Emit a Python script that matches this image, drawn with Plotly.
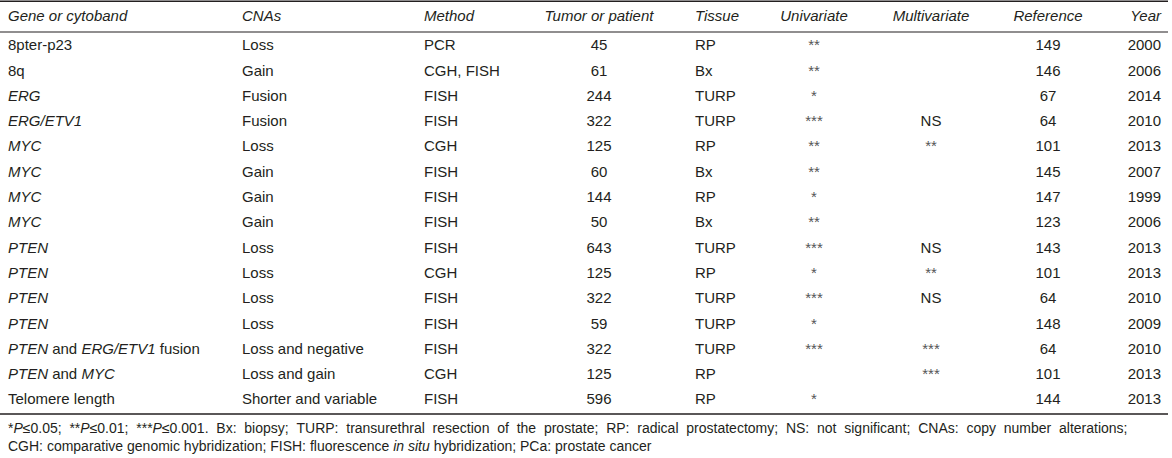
import plotly.graph_objects as go

# ---- data ----
headers = ["Gene or cytoband", "CNAs", "Method", "Tumor or patient", "Tissue",
           "Univariate", "Multivariate", "Reference", "Year"]
genes = ["8pter-p23", "8q", "<i>ERG</i>", "<i>ERG/ETV1</i>", "<i>MYC</i>", "<i>MYC</i>",
         "<i>MYC</i>", "<i>MYC</i>", "<i>PTEN</i>", "<i>PTEN</i>", "<i>PTEN</i>", "<i>PTEN</i>",
         "<i>PTEN</i> and <i>ERG/ETV1</i> fusion", "<i>PTEN</i> and <i>MYC</i>", "Telomere length"]
cnas = ["Loss", "Gain", "Fusion", "Fusion", "Loss", "Gain", "Gain", "Gain", "Loss", "Loss",
        "Loss", "Loss", "Loss and negative", "Loss and gain", "Shorter and variable"]
methods = ["PCR", "CGH, FISH", "FISH", "FISH", "CGH", "FISH", "FISH", "FISH", "FISH", "CGH",
           "FISH", "FISH", "FISH", "CGH", "FISH"]
patients = [45, 61, 244, 322, 125, 60, 144, 50, 643, 125, 322, 59, 322, 125, 596]
tissues = ["RP", "Bx", "TURP", "TURP", "RP", "Bx", "RP", "Bx", "TURP", "RP", "TURP", "TURP",
           "TURP", "RP", "RP"]
univariate = ["**", "**", "*", "***", "**", "**", "*", "**", "***", "*", "***", "*", "***", "", "*"]
multivariate = ["", "", "", "NS", "**", "", "", "", "NS", "**", "NS", "", "***", "***", ""]
references = [149, 146, 67, 64, 101, 145, 147, 123, 143, 101, 64, 148, 64, 101, 144]
years = [2000, 2006, 2014, 2010, 2013, 2007, 1999, 2006, 2013, 2013, 2010, 2009, 2010, 2013, 2013]
footnote_line1 = ("*<i>P</i>≤0.05; **<i>P</i>≤0.01; ***<i>P</i>≤0.001. Bx: biopsy; TURP: transurethral "
                  "resection of the prostate; RP: radical prostatectomy; NS: not significant; "
                  "CNAs: copy number alterations;")
footnote_line2 = ("CGH: comparative genomic hybridization; FISH: fluorescence <i>in situ</i> "
                  "hybridization; PCa: prostate cancer")

# ---- layout (pixel-space axes) ----
W, H = 1172, 458
FONT = "Liberation Sans"
TXT = "#231f20"
STAR = "#555555"
ROW0, ROWH = 46.5, 25.3
HEAD_Y = 17.5
BODY_SIZE = 15
FOOT_SIZE = 14
# column anchor x and alignment ('l' left edge, 'c' centre, 'r' right edge)
cols = [(8, "l"), (242, "l"), (424, "l"), (599, "c"), (695, "l"),
        (814, "c"), (931, "c"), (1048, "c"), (1161, "r")]
pos_map = {"l": "middle right", "c": "middle center", "r": "middle left"}

columns = [genes, cnas, methods, [str(v) for v in patients], tissues,
           univariate, multivariate, [str(v) for v in references], [str(v) for v in years]]
row_y = [ROW0 + i * ROWH for i in range(len(genes))]

fig = go.Figure()
for ci, (vals, (cx, al)) in enumerate(zip(columns, cols)):
    is_star = ci in (5, 6)
    colours = [STAR if (is_star and "*" in v) else TXT for v in vals]
    fig.add_trace(go.Scatter(
        x=[cx] * len(vals), y=row_y, text=list(vals), mode="text",
        textposition=pos_map[al],
        textfont=dict(family=FONT, size=BODY_SIZE, color=colours),
        hoverinfo="skip", showlegend=False, cliponaxis=False))
    fig.add_trace(go.Scatter(
        x=[cx], y=[HEAD_Y], text=["<i>" + headers[ci] + "</i>"], mode="text",
        textposition=pos_map[al],
        textfont=dict(family=FONT, size=BODY_SIZE, color=TXT),
        hoverinfo="skip", showlegend=False, cliponaxis=False))

# footnotes (first line justified to the table width with wider word gaps)
line1 = " \u00a0".join(footnote_line1.split(" "))
fig.add_trace(go.Scatter(
    x=[8, 8], y=[429.5, 447.5], text=[line1, footnote_line2], mode="text",
    textposition="middle right",
    textfont=dict(family=FONT, size=FOOT_SIZE, color=TXT),
    hoverinfo="skip", showlegend=False, cliponaxis=False))

shapes = []
for yy, w in [(1.2, 1.6), (32, 1.2), (414, 1.6)]:
    shapes.append(dict(type="line", xref="x", yref="y", x0=0, x1=1168, y0=yy, y1=yy,
                       line=dict(color="#231f20", width=w)))

fig.update_layout(
    width=W, height=H, margin=dict(l=0, r=0, t=0, b=0),
    paper_bgcolor="white", plot_bgcolor="white",
    xaxis=dict(range=[0, W], visible=False, fixedrange=True),
    yaxis=dict(range=[H, 0], visible=False, fixedrange=True),
    shapes=shapes,
)
fig.write_html("out.html", config={"displayModeBar": False},
               post_script="document.body.style.margin='0';document.body.style.overflow='hidden';")
